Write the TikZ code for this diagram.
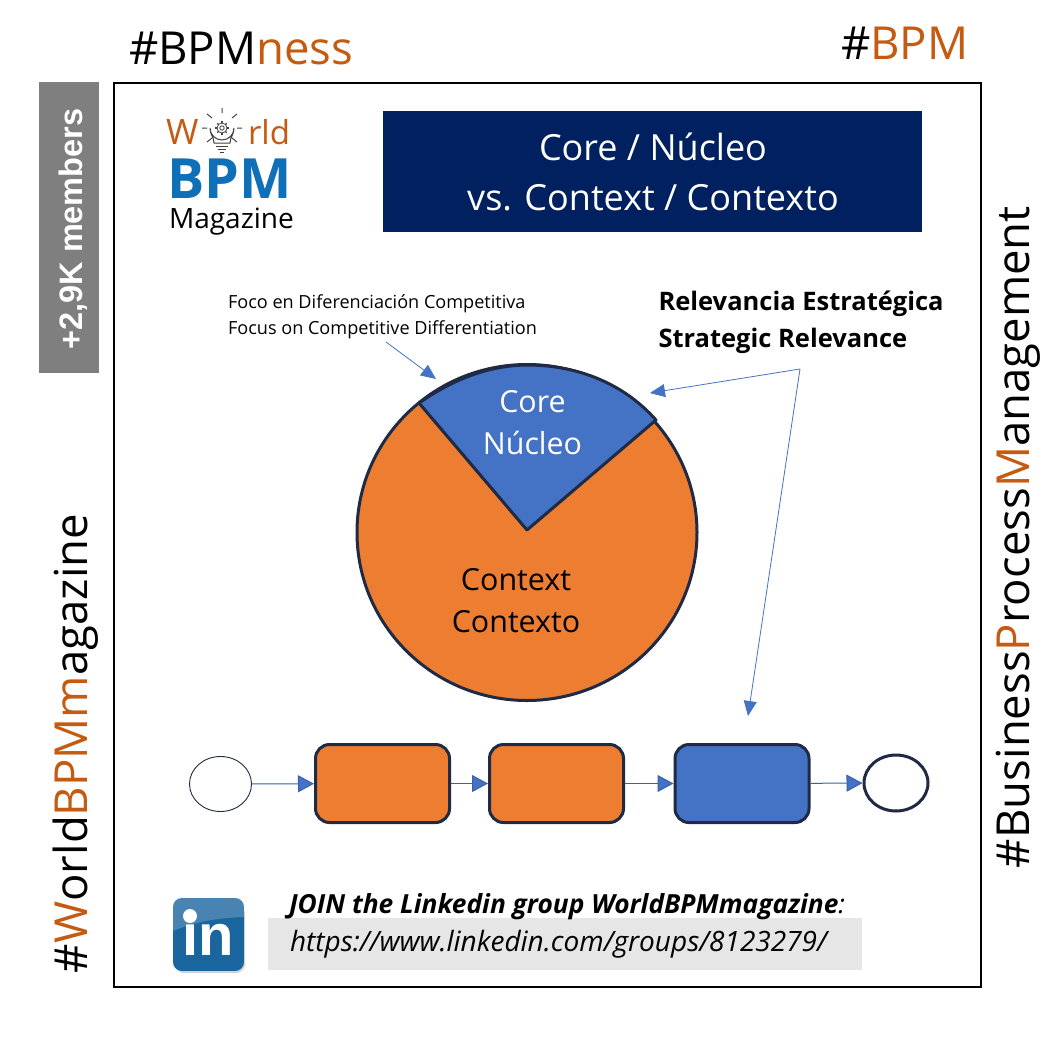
\documentclass[tikz,border=0pt]{standalone}
\usepackage{fontspec}
\setmainfont{Open Sans}
\newfontfamily\arialf{Liberation Sans}
\usetikzlibrary{arrows.meta,shapes.geometric}
\definecolor{bpmorange}{HTML}{C55A11}
\definecolor{pieorange}{HTML}{ED7D31}
\definecolor{pieblue}{HTML}{4472C4}
\definecolor{navy}{HTML}{002060}
\definecolor{edgedark}{HTML}{1F2A44}
\definecolor{logoblue}{HTML}{0F6FB7}
\definecolor{lightgrey}{HTML}{E7E6E6}
\definecolor{sidegrey}{HTML}{7F7F7F}
\definecolor{lnblue}{HTML}{1B659F}
\newcommand{\fs}[1]{\fontsize{#1}{#1}\selectfont}
\newcommand{\org}[1]{\textcolor{bpmorange}{#1}}
\tikzset{
 txt/.style={inner sep=0pt,outer sep=0pt,text depth=0pt},
 taskbox/.style={draw=edgedark,line width=3pt,rounded corners=14pt,minimum width=134pt,minimum height=78pt,inner sep=0pt},
 flow/.style={draw=pieblue!85!black,line width=1pt,-{Triangle[length=16pt,width=17pt,fill=pieblue]}},
 thinarrow/.style={draw=pieblue,line width=.8pt,-{Triangle[length=15pt,width=13pt,fill=pieblue]}},
 piepart/.style={draw=edgedark,line width=3pt,line join=round},
 raystyle/.style={draw=black!75,line width=1pt},
}
\begin{document}
\begin{tikzpicture}[x=1pt,y=-1pt]
\useasboundingbox (0,0) rectangle (1061,1037);
\fill[white] (0,0) rectangle (1061,1037);
\draw[black,line width=2pt] (114,83) rectangle (981,987);
% outer hashtags
\node[txt,anchor=base west] (tagness) at (129,64) {\fs{45.5}\#BPM\org{ness}};
\node[txt,anchor=base west] (tagbpm) at (841,59) {\fs{45.5}\#\org{BPM}};
\node[txt,anchor=base west,rotate=90] (tagworld) at (87,973) {\fs{45.5}\#\org{W}orld\org{BPM}\org{m}agazine};
\node[txt,anchor=base west,rotate=90] (tagbus) at (1029,868) {\fs{45.5}\#Business\org{P}rocess\org{M}anagement};
% grey side box
\fill[sidegrey] (39,82) rectangle (99,373);
\node[txt,anchor=center,rotate=90,text=white] (members) at (71,229) {\arialf\bfseries\fs{32.5}+2,9K members};
% logo
\node[txt,anchor=base west,text=bpmorange] (logow) at (166,144) {\fs{35}W};
\node[txt,anchor=base west,text=bpmorange] (logorld) at (248,144) {\fs{33}rld};
\node[txt,anchor=base west,text=logoblue] (logobpm) at (167,198.5) {\bfseries\fs{55.5}BPM};
\node[txt,anchor=base west] (logomag) at (169,228) {\fs{28}Magazine};
% bulb icon
\draw[raystyle] (214,143) .. controls (214,137) and (210,135) .. (210,128) arc (180:0:12) .. controls (234,135) and (230,137) .. (230,143) -- cycle;
\draw[raystyle] (216,146) -- (228,146) (218,149) -- (226,149) (220,152)--(224,152);
\draw[raystyle,line width=.8pt] (222,128) circle (2.2) circle (5);
\foreach \a in {0,45,...,315} \draw[raystyle,line width=1.3pt] (222,128) ++(\a:4.8) -- ++(\a:1.8);
\draw[raystyle] (222,108) -- (222,113) (207,114) -- (212,118) (237,114) -- (232,118) (202,128) -- (207,128) (237,128) -- (242,128) (207,142) -- (212,138) (237,142) -- (232,138);
% title
\fill[navy] (383,111) rectangle (922,232);
\node[txt,text=white,anchor=base] (title1) at (653,160) {\fs{36}Core / Núcleo};
\node[txt,text=white,anchor=base] (title2) at (653,210) {\fs{36}vs. Context / Contexto};
% small labels
\node[txt,anchor=base west] (foco) at (228,308) {\fs{18.1}Foco en Diferenciación Competitiva};
\node[txt,anchor=base west] (focus) at (228,334) {\fs{18.1}Focus on Competitive Differentiation};
\node[txt,anchor=base west] (rel1) at (658.5,310) {\bfseries\fs{25.5}Relevancia Estratégica};
\node[txt,anchor=base west] (rel2) at (658.5,347) {\bfseries\fs{25.5}Strategic Relevance};
% pie
\filldraw[piepart,fill=pieorange] (527,532.5) ellipse (170 and 168);
\filldraw[piepart,fill=pieblue] (527,530) -- (419,403) .. controls (455,378) and (490,365.5) .. (527,365) .. controls (580,365) and (625,385) .. (656,420) -- cycle;
\node[txt,anchor=base,text=white] (core) at (532.5,412) {\fs{30.4}Core};
\node[txt,anchor=base,text=white] (nucleo) at (532.5,454) {\fs{30.4}Núcleo};
\node[txt,anchor=base] (context) at (516,590) {\fs{30.4}Context};
\node[txt,anchor=base] (contexto) at (516,632) {\fs{30.4}Contexto};
% annotation arrows
\coordinate (focusfrom) at (386,342);
\coordinate (focusto) at (436,379);
\coordinate (hub) at (800,369);
\coordinate (coreto) at (650,393);
\coordinate (taskto) at (748,716);
\draw[thinarrow] (focusfrom) -- (focusto);
\draw[thinarrow] (hub) -- (coreto);
\draw[thinarrow] (hub) -- (taskto);
% process
\node[ellipse,draw=edgedark,line width=.9pt,fill=white,minimum width=62pt,minimum height=55pt,inner sep=0pt] (start) at (220.5,784) {};
\node[taskbox,fill=pieorange] (t1) at (382.5,783.5) {};
\node[taskbox,fill=pieorange] (t2) at (556.5,783.5) {};
\node[taskbox,fill=pieblue] (t3) at (742,783.5) {};
\node[ellipse,draw=edgedark,line width=3pt,fill=white,minimum width=64pt,minimum height=56pt,inner sep=0pt] (stop) at (896,783) {};
\draw[flow] (start) -- (t1);
\draw[flow] (t1) -- (t2);
\draw[flow] (t2) -- (t3);
\draw[flow] (t3) -- (stop);
% linkedin
\fill[black!18,rounded corners=9pt] (175,905) rectangle (245,973);
\begin{scope}
\clip[rounded corners=9pt] (173,898) rectangle (244,971);
\fill[lnblue] (173,898) rectangle (244,971);
\fill[white,opacity=.2] (173,898) -- (244,898) -- (244,917) .. controls (215,918) and (195,922) .. (173,931) -- cycle;
\end{scope}
\node[txt,anchor=base,text=white] (lnin) at (208.5,955) {\arialf\bfseries\fs{58}in};
\fill[white] (190,916) circle (7);
% join
\fill[lightgrey] (268,918) rectangle (862,970);
\node[txt,anchor=base west] (join) at (289,913) {\bfseries\itshape\fs{26.3}JOIN the Linkedin group WorldBPMmagazine\textmd{:}};
\node[txt,anchor=base west] (url) at (290,951) {\itshape\fs{28}https://www.linkedin.com/groups/8123279/};
\end{tikzpicture}
\end{document}
